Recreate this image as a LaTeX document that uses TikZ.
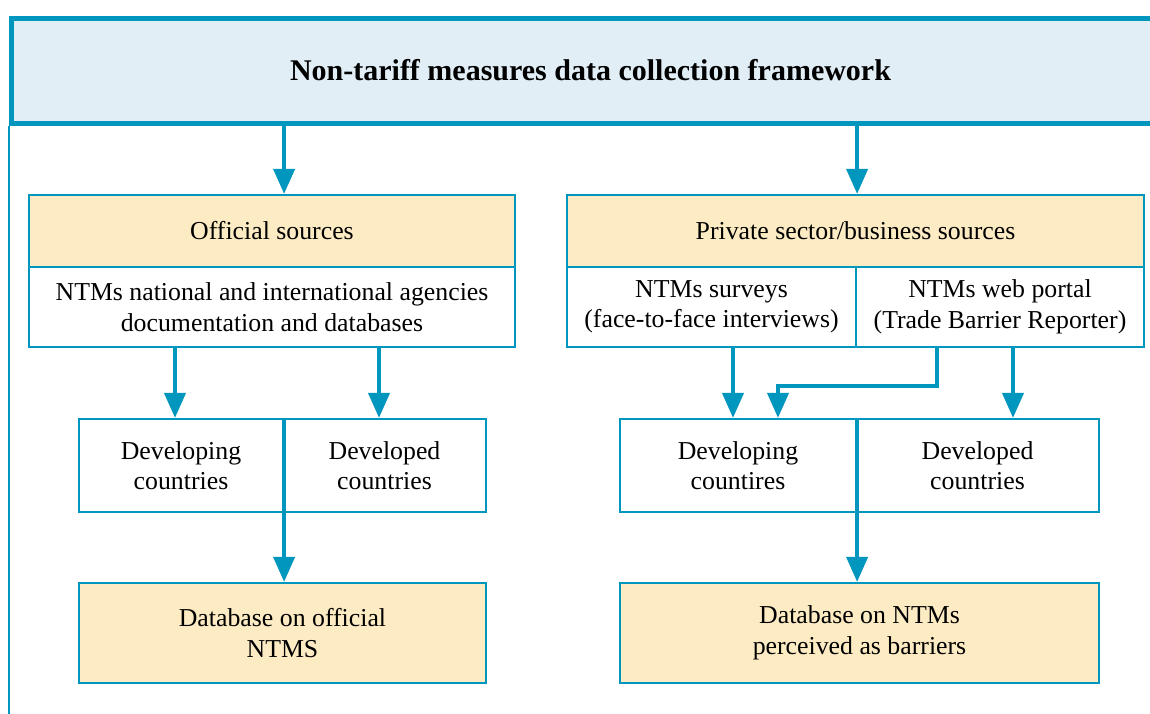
\documentclass[tikz,border=0pt]{standalone}
\usepackage{fontspec}
\setmainfont{Liberation Serif}
\usetikzlibrary{arrows.meta}
\definecolor{ntmblue}{RGB}{0,150,190}
\definecolor{ntmsky}{RGB}{225,238,246}
\definecolor{ntmsand}{RGB}{253,235,195}

\tikzset{
  box/.style={rectangle, draw=ntmblue, line width=2.2pt, inner sep=0pt, align=center,
    font=\fontsize{25.8}{30.5}\selectfont},
  headbox/.style={box, fill=ntmsand},
  flow/.style={draw=ntmblue, line width=4pt, -{Triangle[width=21pt,length=25pt]}}
}

\begin{document}
\begin{tikzpicture}[x=1pt, y=-1pt]
  \useasboundingbox (0,0) rectangle (1150,713);

  % title band, runs off the right edge
  \node (title) [rectangle, draw=ntmblue, fill=ntmsky, line width=5pt, inner sep=0pt,
    minimum width=1159pt, minimum height=105pt, font=\fontsize{30}{34}\selectfont\bfseries]
    at (590.5,70.5) {Non-tariff measures data collection framework};
  \draw[ntmblue, line width=2pt] (title.south west) -- ++(0,600);

  % official side
  \node (offhead) [headbox, minimum width=486pt, minimum height=72pt] at (272,231) {Official sources};
  \node (offbody) [box, minimum width=486pt, minimum height=80pt] at (272,307) {
    NTMs national and international agencies \\
    documentation and databases};
  \node (devL) [box, minimum width=204pt, minimum height=93pt] at (181,465.5) {
    Developing \\ countries};
  \node (dvdL) [box, minimum width=203pt, minimum height=93pt] at (384.5,465.5) {
    Developed \\ countries};
  \node (dbL) [headbox, minimum width=407pt, minimum height=100pt] at (282.5,633) {
    Database on official \\ NTMS};

  % private side
  \node (pvhead) [headbox, minimum width=577pt, minimum height=72pt] at (855.5,231) {
    Private sector/business sources};
  \node (survey) [box, minimum width=289pt, minimum height=80pt] at (711.5,307) {
    NTMs surveys \\ (face-to-face interviews)};
  \node (portal) [box, minimum width=288pt, minimum height=80pt] at (1000,307) {
    NTMs web portal \\ (Trade Barrier Reporter)};
  \node (devR) [box, minimum width=236pt, minimum height=93pt] at (738,465.5) {
    Developing \\ countires};
  \node (dvdR) [box, minimum width=243pt, minimum height=93pt] at (977.5,465.5) {
    Developed \\ countries};
  \node (dbR) [headbox, minimum width=479pt, minimum height=100pt] at (859.5,633) {
    Database on NTMs \\ perceived as barriers};

  % arrows
  \draw[flow] (devL.east |- title.south) -- (devL.east |- offhead.north);
  \draw[flow] (survey.east |- title.south) -- (survey.east |- pvhead.north);
  \draw[flow] ([xshift=-6pt]devL.north |- offbody.south) -- ([xshift=-6pt]devL.north);
  \draw[flow] ([xshift=-5.5pt]dvdL.north |- offbody.south) -- ([xshift=-5.5pt]dvdL.north);
  \draw[flow] ([xshift=-5pt]devR.north |- survey.south) -- ([xshift=-5pt]devR.north);
  \draw[flow] ([xshift=-63pt]portal.south) -- ++(0,38) -| ([xshift=40pt]devR.north);
  \draw[flow] ([xshift=35.5pt]dvdR.north |- portal.south) -- ([xshift=35.5pt]dvdR.north);
  \draw[flow] (devL.north east) -- (devL.north east |- dbL.north);
  \draw[flow] (devR.north east) -- (devR.north east |- dbR.north);
\end{tikzpicture}
\end{document}
